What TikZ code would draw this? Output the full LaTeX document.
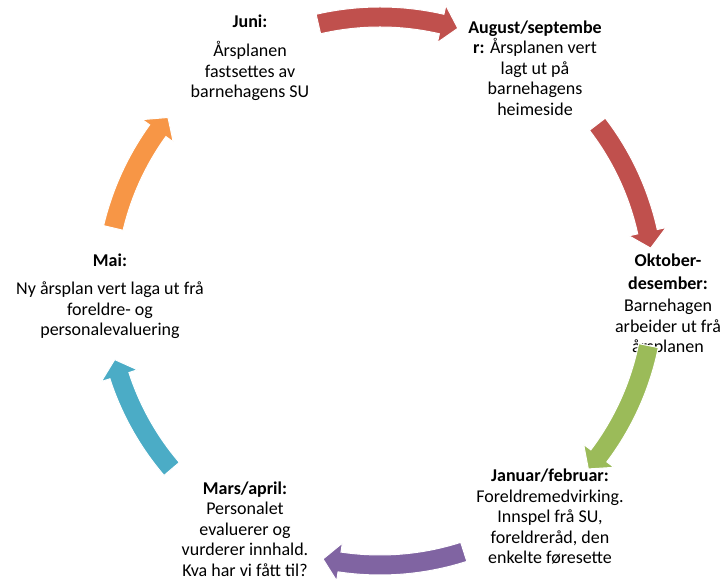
\documentclass[tikz,border=0pt]{standalone}
\usepackage{fontspec}
\setmainfont{Carlito}
\definecolor{cycred}{HTML}{C0504D}
\definecolor{cycgreen}{HTML}{9BBB59}
\definecolor{cycpurple}{HTML}{8064A2}
\definecolor{cycteal}{HTML}{4BACC6}
\definecolor{cycorange}{HTML}{F79646}
% curved block arrow on the cycle: colour, start angle, tip angle
\newcommand*{\cyclearrow}[3]{%
  \fill[#1, draw=white, line width=1pt]
    (#2:284) arc[start angle=#2, end angle=#3+3.5, radius=284]
    -- (#3+3.5:293) -- (#3:274) -- (#3+3.5:255) -- (#3+3.5:264)
    arc[start angle=#3+3.5, end angle=#2, radius=264] -- cycle;}

\begin{document}
\begin{tikzpicture}[x=1pt, y=1pt,
  stage/.style={align=center, inner sep=0pt, font=\fontsize{18}{20.5}\selectfont}]

\useasboundingbox (0,0) rectangle (726,583);

% Stages
\node[stage] (juni) at (250,525.5) {\textbf{Juni:}\\[9pt] Årsplanen\\ fastsettes av\\ barnehagens SU};
\node[stage] (aug)  at (535,515)   {\textbf{August/septembe}\\ \textbf{r:} Årsplanen vert\\ lagt ut på\\ barnehagens\\ heimeside};
\node[stage] (okt)  at (668,278)   {\textbf{Oktober-}\\[2pt] \textbf{desember:}\\[2pt] Barnehagen\\ arbeider ut frå\\ årsplanen};
\node[stage] (jan)  at (550,66)    {\textbf{Januar/februar:}\\ Foreldremedvirking.\\ Innspel frå SU,\\ foreldreråd, den\\ enkelte føresette};
\node[stage] (mars) at (245,54)    {\textbf{Mars/april:}\\ Personalet\\ evaluerer og\\ vurderer innhald.\\ Kva har vi fått til?};
\node[stage] (mai)  at (110,287)   {\textbf{Mai:}\\[8pt] Ny årsplan vert laga ut frå\\ foreldre- og\\ personalevaluering};

% Arrows round the cycle
\begin{scope}[shift={(380,292)}]
  \cyclearrow{cycred}{103}{73.5}
  \cyclearrow{cycred}{37.5}{9}
  \cyclearrow{cycgreen}{-11.5}{-40.5}
  \cyclearrow{cycpurple}{-72.2}{-102}
  \cyclearrow{cycteal}{-139.5}{-165.5}
  \cyclearrow{cycorange}{166.7}{140.7}
\end{scope}

\end{tikzpicture}
\end{document}
